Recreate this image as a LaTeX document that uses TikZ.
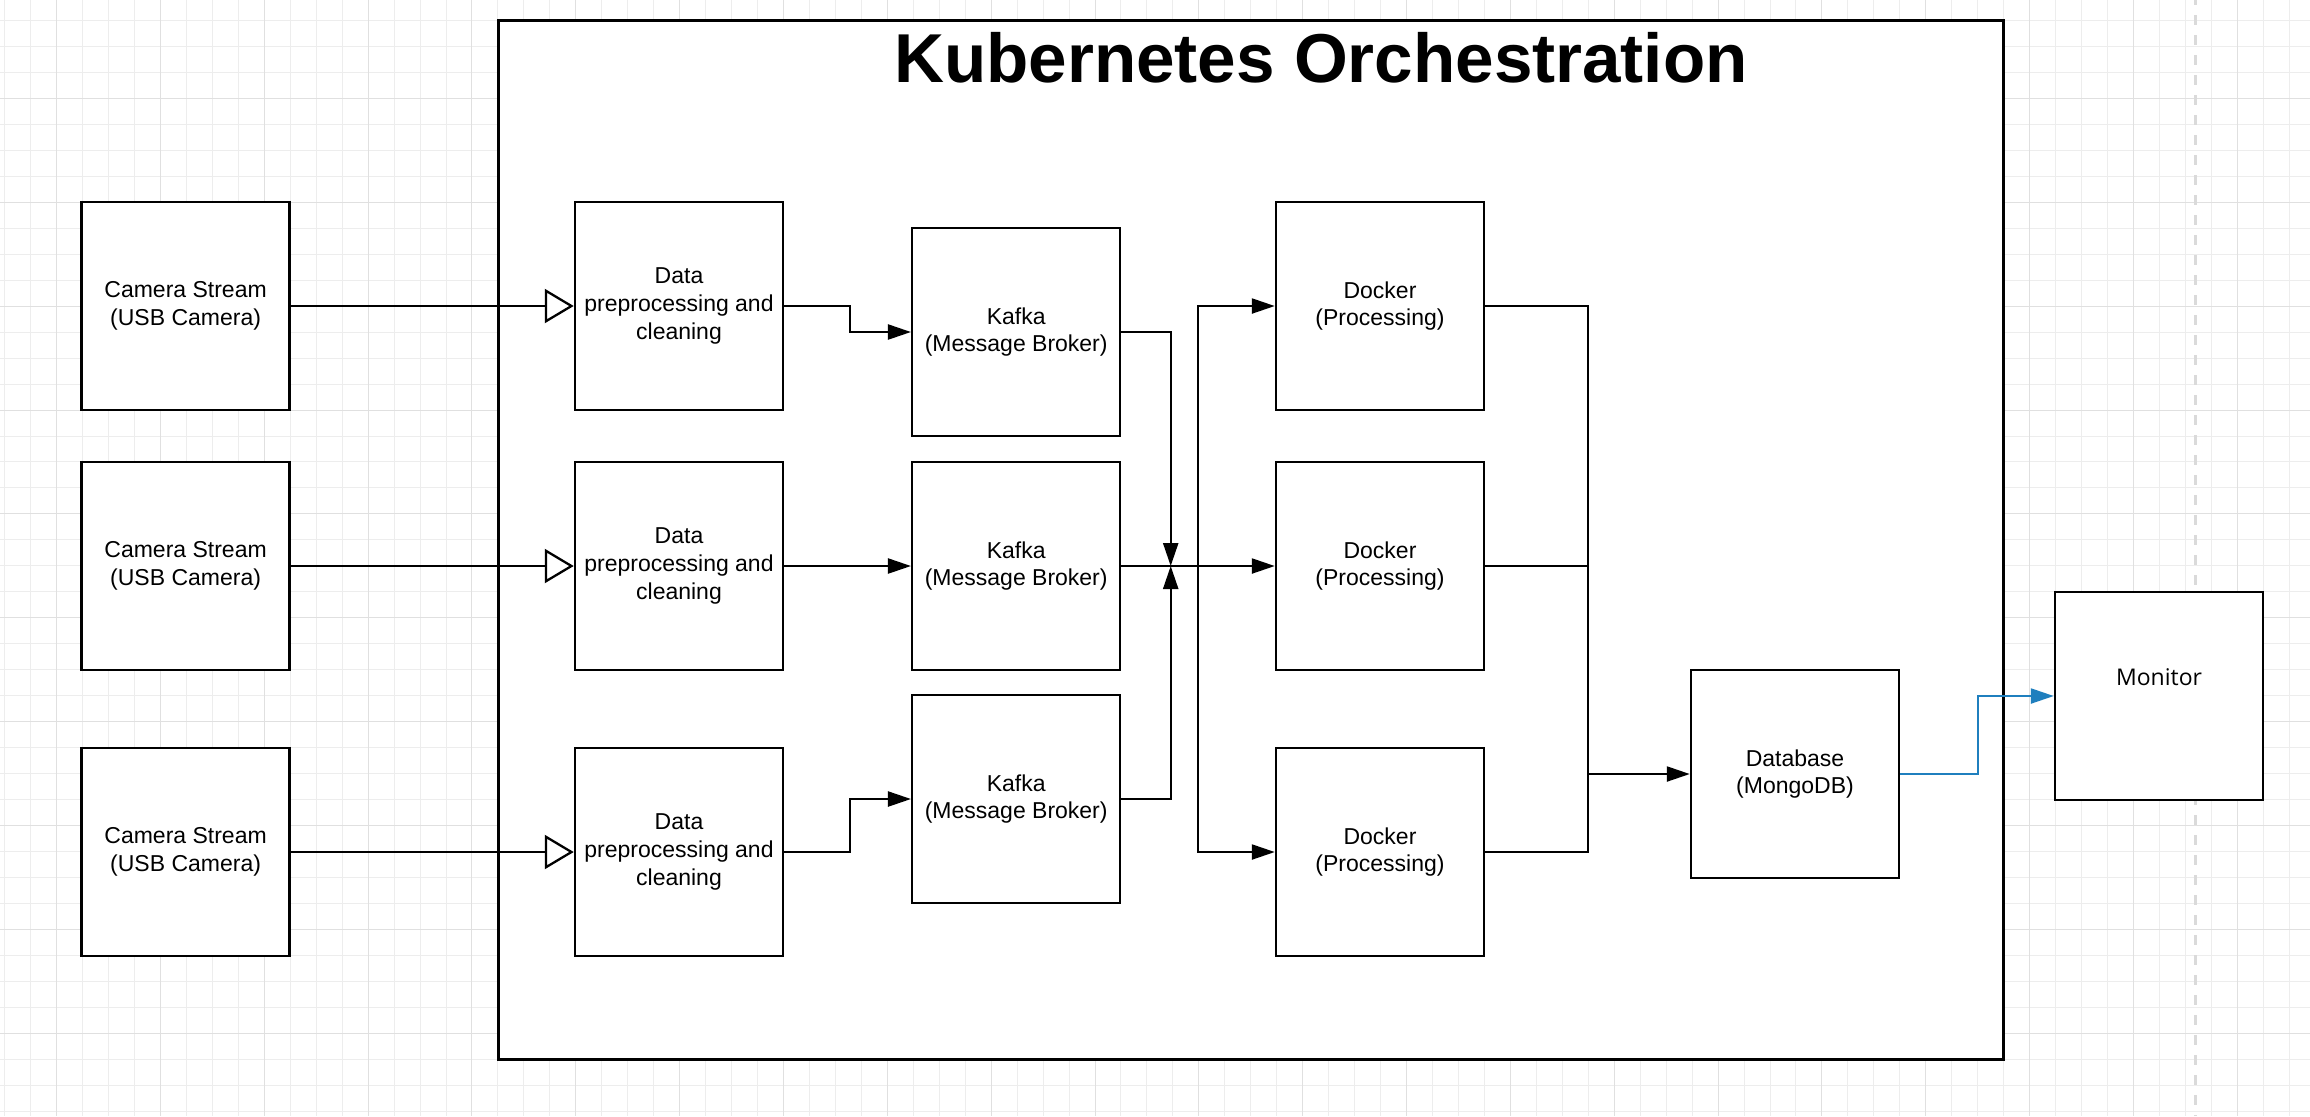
\documentclass[tikz,border=0pt]{standalone}
\usepackage{fontspec}
\setmainfont{Liberation Sans}
\newfontfamily\monfont{Open Sans}
\usetikzlibrary{arrows.meta}
\definecolor{gridminor}{RGB}{237,237,237}
\definecolor{gridmajor}{RGB}{224,224,224}
\definecolor{dashgray}{RGB}{218,218,218}
\definecolor{linkblue}{RGB}{31,127,190}
\begin{document}
\begin{tikzpicture}[x=0.5pt,y=-0.5pt,
  box/.style={draw, line width=1.25pt, fill=white, minimum width=104pt, minimum height=104pt,
    inner sep=0pt, align=center, font=\fontsize{11.5pt}{13.8pt}\selectfont},
  conn/.style={line width=1.15pt},
  fillarrow/.style={conn, -{Triangle[length=11.5pt,width=7.5pt]}},
  openarrow/.style={conn, -{Triangle[length=14.5pt,width=17pt,fill=white]}},
  minorline/.style={draw=gridminor, line width=0.5pt},
  majorline/.style={draw=gridmajor, line width=0.5pt},
]
\useasboundingbox (0,0) rectangle (2310,1116);
\fill[white] (0,0) rectangle (2310,1116);
% grid
\foreach \i in {0,...,88} \draw[minorline] ({4.7+25.96*\i},0) -- ++(0,1116);
\foreach \i in {0,...,42} \draw[minorline] (0,{20.66+25.96*\i}) -- ++(2310,0);
\foreach \i in {0,...,21} \draw[majorline] ({56.6+103.84*\i},0) -- ++(0,1116);
\foreach \i in {0,...,9} \draw[majorline] (0,{98.5+103.84*\i}) -- ++(2310,0);
% dashed guide
\draw[dashgray, line width=1.5pt, dash pattern=on 5pt off 5pt, dash phase=2.5pt] (2195.7,0) -- (2195.7,1116);

% Kubernetes frame
\node[draw, line width=1.5pt, fill=white, minimum width=752.75pt, minimum height=519.2pt, inner sep=0pt] (k8s) at (1250.75,539.8) {};
\node[font=\fontsize{34.6pt}{40pt}\selectfont\bfseries, anchor=base, inner sep=0pt] (title) at (1321,82.7) {Kubernetes Orchestration};

% cameras
\node[box] (c1) at (185.6,306) {Camera Stream\\(USB Camera)};
\node[box] (c2) at (185.6,566) {Camera Stream\\(USB Camera)};
\node[box] (c3) at (185.6,852) {Camera Stream\\(USB Camera)};
% data preprocessing
\node[box] (d1) at (679,306) {Data\\preprocessing and\\cleaning};
\node[box] (d2) at (679,566) {Data\\preprocessing and\\cleaning};
\node[box] (d3) at (679,852) {Data\\preprocessing and\\cleaning};
% kafka
\node[box] (k1) at (1016.2,332) {Kafka\\(Message Broker)};
\node[box] (k2) at (1016.2,566) {Kafka\\(Message Broker)};
\node[box] (k3) at (1016.2,799) {Kafka\\(Message Broker)};
% docker
\node[box] (dk1) at (1380,306) {Docker\\(Processing)};
\node[box] (dk2) at (1380,566) {Docker\\(Processing)};
\node[box] (dk3) at (1380,852) {Docker\\(Processing)};
% database and monitor
\node[box] (db) at (1795,774) {Database\\(MongoDB)};
\node[box] (mon) at (2159,696) {};
\node[font=\monfont\fontsize{11.5pt}{13.8pt}\selectfont, inner sep=0pt] (monlbl) at (2159,677) {Monitor};

% junction coordinates
\coordinate (jn) at (1170.7,566);
\coordinate (br) at (1197.7,566);
\coordinate (mg) at (1588,774);

% connectors
\draw[openarrow] (c1.east) -- (d1.west);
\draw[openarrow] (c2.east) -- (d2.west);
\draw[openarrow] (c3.east) -- (d3.west);

\draw[fillarrow] (d1.east) -- ++(65.5,0) |- (k1.west);
\draw[fillarrow] (d2.east) -- (k2.west);
\draw[fillarrow] (d3.east) -- ++(65.5,0) |- (k3.west);

\draw[fillarrow] (k1.east) -| (jn);
\draw[fillarrow] (k3.east) -| (jn);
\draw[fillarrow] (k2.east) -- (dk2.west);
\draw[fillarrow] (br) |- (dk1.west);
\draw[fillarrow] (br) |- (dk3.west);

\draw[conn] (dk1.east) -| (mg);
\draw[conn] (dk3.east) -| (mg);
\draw[conn] (dk2.east) -- (dk2.east -| mg);
\draw[fillarrow] (mg) -- (db.west);

\draw[fillarrow, draw=linkblue] (db.east) -- ++(77.5,0) |- (mon.west);
\end{tikzpicture}
\end{document}
